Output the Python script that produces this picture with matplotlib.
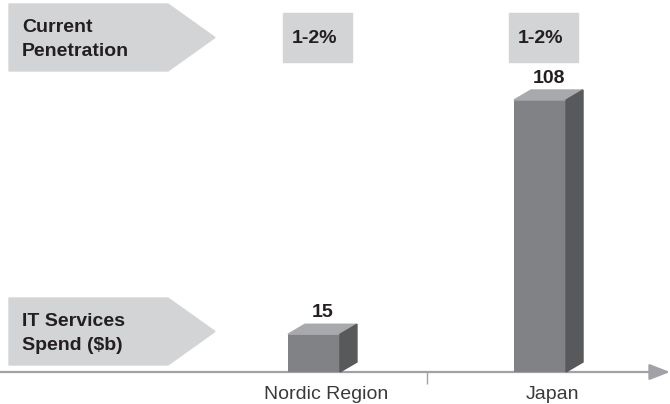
import numpy as np
import matplotlib
matplotlib.use("Agg")
import matplotlib.pyplot as plt
from matplotlib.patches import Polygon, Rectangle
from matplotlib.transforms import blended_transform_factory

plt.rcParams['font.family'] = ['Liberation Sans', 'DejaVu Sans']

categories = ["Nordic Region", "Japan"]
spend = [15, 108]
penetration = ["1-2%", "1-2%"]
row_labels = [["Current", "Penetration"], ["IT Services", "Spend ($b)"]]

front_col = '#808285'
side_col = '#58595b'
top_col = '#a7a9ac'
panel_col = '#d3d4d6'
text_col = '#231f20'
axis_col = '#a0a2a5'

# pixel depth of the 3d effect
dx, dy = 17, 10


def main():
    fig = plt.figure(figsize=(6.7, 4.04), dpi=100)
    ax = fig.add_axes([0, 0, 1, 1])
    ax.axis('off')
    ax.set_xlim(-1.389, 1.575)
    ax.set_ylim(-12.7, 147.7)

    x = np.arange(len(categories))
    bars = ax.bar(x, spend, width=0.23, color=front_col, zorder=3)

    def shift(px, py, ox=dx, oy=dy):
        d = ax.transData.transform((px, py))
        return ax.transData.inverted().transform((d[0] + ox, d[1] + oy))

    blend = blended_transform_factory(ax.transData, ax.transAxes)

    for b, v, pen, cat in zip(bars, spend, penetration, categories):
        x0 = b.get_x()
        x1 = x0 + b.get_width()
        top = [(x0, v), (x1, v), shift(x1, v), shift(x0, v)]
        side = [(x1, 0), (x1, v), shift(x1, v), shift(x1, 0)]
        ax.add_patch(Polygon(top, closed=True, color=top_col, zorder=3))
        ax.add_patch(Polygon(side, closed=True, color=side_col, zorder=3))

        xc = (x0 + x1) / 2
        ax.annotate(str(v), (xc, v), xytext=(dx / 2, 17),
                    textcoords='offset pixels', ha='center', va='baseline',
                    fontsize=14, fontweight='bold', color=text_col)
        ax.annotate(cat, (xc, 0), xytext=(dx / 2 + 4, -27),
                    textcoords='offset pixels', ha='center', va='baseline',
                    fontsize=14, color='#3a3a3c')

        # penetration box
        bx0 = shift(xc, 0, -31, 0)[0]
        bx1 = shift(xc, 0, 38, 0)[0]
        ax.add_patch(Rectangle((bx0, 1 - 62 / 404), bx1 - bx0, 49 / 404,
                               transform=blend, color=panel_col, zorder=2))
        ax.text(shift(xc, 0, 0.5, 0)[0], 1 - 43 / 404, pen, transform=blend,
                ha='center', va='baseline', fontsize=14, fontweight='bold',
                color=text_col)

    # row label arrows
    for lines, yc in zip(row_labels, [37.5, 331.5]):
        pts = [(9, yc - 33.5), (168, yc - 33.5), (215, yc),
               (168, yc + 33.5), (9, yc + 33.5)]
        pts = [(px / 670, 1 - py / 404) for px, py in pts]
        ax.add_patch(Polygon(pts, closed=True, color=panel_col,
                             transform=ax.transAxes, zorder=2))
        for i, line in enumerate(lines):
            ax.text(22 / 670, 1 - (yc - 5.5 + 24 * i) / 404, line,
                    transform=ax.transAxes, ha='left', va='baseline',
                    fontsize=14, fontweight='bold', color=text_col)

    # baseline with arrow
    ytr = ax.get_yaxis_transform()
    ax.annotate('', xy=(1.0, 0), xycoords=ytr, xytext=(0.0, 0),
                textcoords=ytr,
                arrowprops=dict(arrowstyle='-|>,head_length=0.9,head_width=0.35',
                                color=axis_col, lw=1.6,
                                mutation_scale=14, shrinkA=0, shrinkB=0),
                zorder=1)
    ax.vlines(0.5, 1 - 384 / 404, 1 - 372 / 404,
              transform=ax.get_xaxis_transform(), color=axis_col, lw=1)

    fig.savefig("out.png", dpi=100)


if __name__ == "__main__":
    main()
